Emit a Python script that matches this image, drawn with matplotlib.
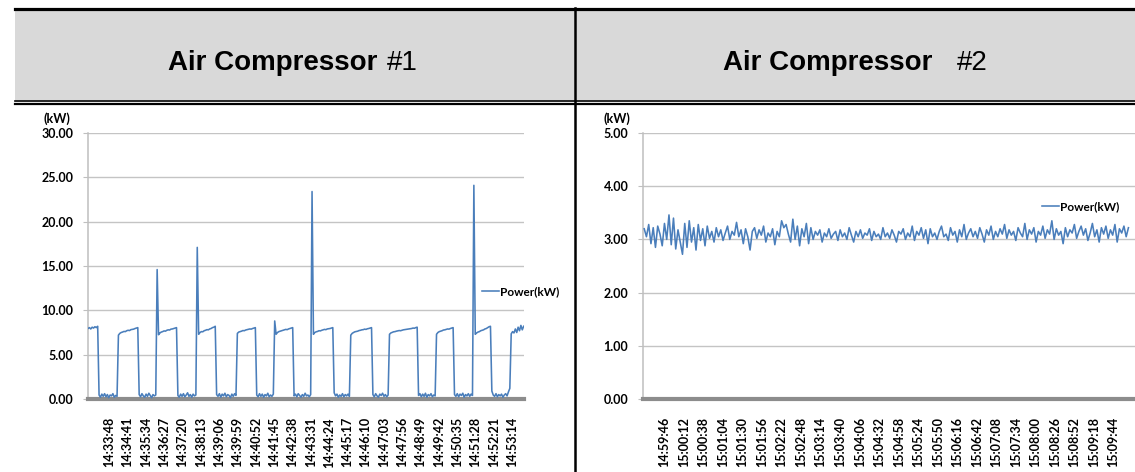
import numpy as np
import matplotlib
matplotlib.use("Agg")
import matplotlib.pyplot as plt
from matplotlib.lines import Line2D
from matplotlib.patches import Rectangle

plt.rcParams['font.family'] = ['Lato', 'DejaVu Sans']

# ---- data -------------------------------------------------------------
titles = ["Air Compressor", "Air Compressor"]
title_tags = ["#1", "#2"]
series_name = "Power(kW)"
unit_label = "(kW)"

# compressor 1: one reading every 4 s, first reading 61 s before 14:33:48
ac1_start = -61
ac1_step = 4
ac1_power = [
    7.95, 8.05, 7.90, 8.10, 8.00, 8.15, 8.05, 8.20,
    0.45, 0.20, 0.55, 0.30, 0.60, 0.25, 0.50, 0.15, 0.45, 0.35, 0.60, 0.20, 0.40, 0.30,
    7.20, 7.40, 7.50, 7.55, 7.62, 7.60, 7.70, 7.75, 7.72, 7.82, 7.85, 7.88, 7.95, 8.00, 8.05,
    0.50, 0.25, 0.60, 0.35, 0.20, 0.55, 0.30, 0.65, 0.40, 0.15, 0.50, 0.35, 0.45,
    14.60, 7.25, 7.45, 7.55, 7.60, 7.68, 7.65, 7.75, 7.80, 7.78, 7.88, 7.90, 7.95, 8.00, 8.05,
    0.40, 0.20, 0.55, 0.30, 0.60, 0.25, 0.45, 0.70, 0.30, 0.50, 0.20, 0.55, 0.35, 0.45,
    17.10, 7.30, 7.50, 7.60, 7.58, 7.70, 7.75, 7.82, 7.80, 7.90, 7.95, 8.05, 8.10, 8.20,
    0.50, 0.30, 0.60, 0.20, 0.55, 0.35, 0.65, 0.25, 0.50, 0.40, 0.15, 0.55, 0.30, 0.60, 0.40,
    7.40, 7.55, 7.60, 7.65, 7.72, 7.70, 7.78, 7.82, 7.85, 7.90, 7.88, 7.95, 8.00, 8.05,
    0.45, 0.25, 0.60, 0.30, 0.55, 0.20, 0.50, 0.35, 0.65, 0.25, 0.45, 0.30, 0.55,
    8.80, 7.30, 7.50, 7.60, 7.65, 7.70, 7.75, 7.80, 7.85, 7.82, 7.90, 7.95, 8.00, 8.05,
    0.35, 0.55, 0.25, 0.60, 0.40, 0.20, 0.50, 0.30, 0.65, 0.35, 0.45, 0.25, 0.50,
    23.40, 7.30, 7.50, 7.58, 7.62, 7.70, 7.68, 7.75, 7.80, 7.85, 7.82, 7.90, 7.92, 7.95, 8.00, 8.05,
    0.70, 0.35, 0.55, 0.20, 0.45, 0.30, 0.60, 0.25, 0.50, 0.35, 0.55, 0.30,
    7.20, 7.40, 7.50, 7.58, 7.62, 7.65, 7.72, 7.75, 7.80, 7.82, 7.88, 7.85, 7.92, 7.95, 8.00, 8.05,
    0.50, 0.25, 0.60, 0.35, 0.20, 0.55, 0.40, 0.65, 0.30, 0.50, 0.25, 0.45,
    7.30, 7.45, 7.52, 7.58, 7.60, 7.65, 7.68, 7.72, 7.70, 7.75, 7.80, 7.82, 7.85, 7.88, 7.90,
    7.92, 7.95, 8.00, 7.98, 8.05, 8.10,
    0.40, 0.60, 0.25, 0.55, 0.30, 0.65, 0.20, 0.50, 0.35, 0.60, 0.25, 0.45, 0.35,
    7.30, 7.50, 7.60, 7.65, 7.70, 7.78, 7.80, 7.85, 7.90, 7.88, 7.95, 8.00, 8.05,
    0.50, 0.30, 0.60, 0.25, 0.55, 0.40, 0.65, 0.20, 0.50, 0.35, 0.60, 0.30, 0.55, 0.40,
    24.10, 7.30, 7.45, 7.55, 7.60, 7.70, 7.75, 7.80, 7.90, 7.95, 8.05, 8.15, 8.20,
    0.90, 0.45, 0.30, 0.60, 0.25, 0.50, 0.35, 0.55, 0.20, 0.45, 0.60, 0.35, 0.80, 1.20,
    7.35, 7.60, 7.45, 7.90, 7.50, 8.10, 7.70, 8.30, 7.80, 8.20,
]
ac1_ticks = ["14:33:48", "14:34:41", "14:35:34", "14:36:27", "14:37:20", "14:38:13",
             "14:39:06", "14:39:59", "14:40:52", "14:41:45", "14:42:38", "14:43:31",
             "14:44:24", "14:45:17", "14:46:10", "14:47:03", "14:47:56", "14:48:49",
             "14:49:42", "14:50:35", "14:51:28", "14:52:21", "14:53:14"]
ac1_tick_step = 53
ac1_yticks = [0, 5, 10, 15, 20, 25, 30]

# compressor 2: one reading every 3 s, first reading 27 s before 14:59:46
ac2_start = -27
ac2_step = 3
ac2_power = [
    3.20, 3.05, 3.28, 2.92, 3.22, 2.85, 3.25, 3.10, 2.88, 3.30, 3.00, 3.46,
    2.90, 3.40, 2.82, 3.18, 2.95, 2.72, 3.30, 2.85, 3.35, 2.95, 3.22, 2.80,
    3.28, 2.98, 3.20, 2.88, 3.25, 3.02, 3.15, 2.95, 3.22, 3.05, 3.18, 2.98,
    3.12, 3.25, 3.00, 3.15, 3.08, 3.32, 3.05, 3.18, 2.92, 3.20, 3.05, 2.80,
    3.15, 3.22, 3.02, 3.18, 3.08, 3.25, 2.95, 3.12, 3.05, 3.20, 2.90, 3.15,
    3.05, 3.35, 3.22, 3.28, 3.10, 2.95, 3.38, 3.00, 3.25, 2.88, 3.20, 3.05,
    3.30, 2.92, 3.22, 3.00, 3.15, 3.08, 3.18, 2.95, 3.12, 3.05, 3.20, 3.02,
    3.10, 3.15, 2.98, 3.18, 3.05, 3.12, 3.00, 3.22, 3.08, 2.95, 3.15, 3.05,
    3.18, 3.02, 3.12, 3.08, 3.20, 2.98, 3.15, 3.05, 3.10, 3.00, 3.22, 3.05,
    3.12, 3.02, 3.18, 3.08, 2.95, 3.15, 3.10, 3.20, 3.00, 3.12, 3.05, 3.25,
    2.98, 3.15, 3.08, 3.22, 3.02, 3.18, 2.92, 3.20, 3.05, 3.12, 3.00, 3.15,
    3.25, 3.05, 3.10, 2.98, 3.22, 3.08, 3.15, 2.95, 3.18, 3.05, 3.28, 3.00,
    3.12, 3.20, 3.05, 3.15, 3.02, 3.22, 3.10, 2.95, 3.18, 3.08, 3.25, 3.00,
    3.15, 3.05, 3.20, 3.10, 3.28, 3.02, 3.18, 3.08, 3.15, 2.98, 3.22, 3.12,
    3.05, 3.30, 3.00, 3.18, 3.10, 3.22, 2.95, 3.15, 3.08, 3.25, 3.02, 3.18,
    3.10, 3.35, 3.00, 3.20, 3.08, 3.15, 2.92, 3.22, 3.05, 3.18, 3.12, 3.28,
    3.02, 3.15, 3.25, 3.08, 3.20, 2.98, 3.12, 3.30, 3.05, 3.18, 2.95, 3.22,
    3.10, 3.25, 3.02, 3.18, 3.08, 3.28, 2.95, 3.20, 3.12, 3.25, 3.05, 3.22,
]
ac2_ticks = ["14:59:46", "15:00:12", "15:00:38", "15:01:04", "15:01:30", "15:01:56",
             "15:02:22", "15:02:48", "15:03:14", "15:03:40", "15:04:06", "15:04:32",
             "15:04:58", "15:05:24", "15:05:50", "15:06:16", "15:06:42", "15:07:08",
             "15:07:34", "15:08:00", "15:08:26", "15:08:52", "15:09:18", "15:09:44"]
ac2_tick_step = 26
ac2_yticks = [0, 1, 2, 3, 4, 5]

# ---- figure -----------------------------------------------------------
W, H = 1135, 472
fig = plt.figure(figsize=(W / 100, H / 100), dpi=100)


def fx(px):
    return px / W


def fy(py):
    return 1 - py / H


# header band and frame lines
fig.add_artist(Rectangle((fx(15), fy(100)), fx(1135) - fx(15), fy(9) - fy(100),
                         transform=fig.transFigure, color="#d9d9d9", lw=0, zorder=0))
for py, lw in [(8.5, 2.3), (101, 1.2), (104, 1.6)]:
    fig.add_artist(Line2D([fx(15), fx(1135)], [fy(py), fy(py)], transform=fig.transFigure,
                          color="black", lw=lw))
fig.add_artist(Line2D([fx(575), fx(575)], [fy(7.5), fy(472)], transform=fig.transFigure,
                      color="black", lw=1.8))

title_font = dict(family="Liberation Sans", size=20, va="center")
fig.text(fx(168), fy(63), titles[0], ha="left", weight="bold", **title_font)
fig.text(fx(418), fy(63), title_tags[0], ha="right", **title_font)
fig.text(fx(723), fy(63), titles[1], ha="left", weight="bold", **title_font)
fig.text(fx(988), fy(63), title_tags[1], ha="right", **title_font)

line_color = "#4a7ebb"
tick_font = dict(fontsize=9, fontweight="bold")


def draw_panel(rect, power, start, step, ticks, tick_step, yticks, xlim, unit_xy, legend_xy):
    ax = fig.add_axes(rect)
    t = start + step * np.arange(len(power))
    ax.plot(t, power, color=line_color, lw=1.15, label=series_name, zorder=3)
    ax.set_xlim(*xlim)
    ax.set_ylim(yticks[0], yticks[-1])
    ax.set_yticks(yticks)
    ax.set_yticklabels([f"{v:.2f}" for v in yticks], **tick_font)
    ax.set_xticks(np.arange(len(ticks)) * tick_step)
    ax.set_xticklabels(ticks, rotation=90, **tick_font)
    ax.tick_params(axis="x", length=0, pad=13)
    ax.tick_params(axis="y", length=3.6, width=0.8, color="#bfbfbf", pad=7)
    ax.grid(axis="y", color="#c4c4c4", lw=1.0)
    ax.set_axisbelow(True)
    for side in ["top", "right"]:
        ax.spines[side].set_visible(False)
    ax.spines["left"].set_color("#bfbfbf")
    ax.spines["left"].set_linewidth(1.1)
    ax.spines["bottom"].set_color("#8c8c8c")
    ax.spines["bottom"].set_linewidth(3.0)
    fig.text(fx(unit_xy[0]), fy(unit_xy[1]), unit_label, ha="center", va="center", **tick_font)
    ax.legend(loc="center left", bbox_to_anchor=(fx(legend_xy[0]), fy(legend_xy[1])),
              bbox_transform=fig.transFigure, frameon=False, borderpad=0, borderaxespad=0,
              handlelength=1.4, handletextpad=0.1, prop=dict(size=8.5, weight="bold"))
    return ax


draw_panel([fx(88), fy(399), fx(524) - fx(88), fy(133) - fy(399)],
           ac1_power, ac1_start, ac1_step, ac1_ticks, ac1_tick_step, ac1_yticks,
           (-61, 1200), (57, 119), (482, 292))
draw_panel([fx(643), fy(399), fx(1140) - fx(643), fy(133) - fy(399)],
           ac2_power, ac2_start, ac2_step, ac2_ticks, ac2_tick_step, ac2_yticks,
           (-28.6, 633.4), (617, 119), (1042, 207))

fig.savefig("out.png", dpi=100)
